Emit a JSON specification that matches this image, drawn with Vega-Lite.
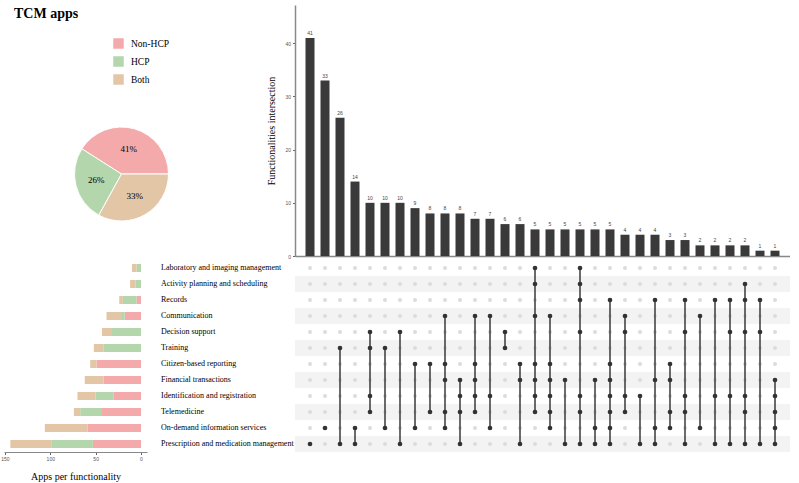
{
  "$schema": "https://vega.github.io/schema/vega-lite/v6.json",
  "background": "white",
  "padding": {"left": 0, "top": 5, "right": 0, "bottom": 0},
  "bounds": "flush",
  "align": "each",
  "columns": 2,
  "spacing": {"row": 4, "column": 56},
  "resolve": {"scale": {"color": "independent", "x": "independent", "y": "independent"}, "legend": {"color": "independent"}},
  "config": {"view": {"stroke": null}, "font": "Liberation Serif"},
  "datasets": {
    "inter": [
      {"id": 1, "n": 41, "L": 0, "A": 0, "R": 0, "C": 0, "D": 0, "T": 0, "Z": 0, "F": 0, "I": 0, "M": 0, "O": 0, "P": 1},
      {"id": 2, "n": 33, "L": 0, "A": 0, "R": 0, "C": 0, "D": 0, "T": 0, "Z": 0, "F": 0, "I": 0, "M": 0, "O": 1, "P": 0},
      {"id": 3, "n": 26, "L": 0, "A": 0, "R": 0, "C": 0, "D": 0, "T": 1, "Z": 0, "F": 0, "I": 0, "M": 0, "O": 0, "P": 1},
      {"id": 4, "n": 14, "L": 0, "A": 0, "R": 0, "C": 0, "D": 0, "T": 0, "Z": 0, "F": 0, "I": 0, "M": 0, "O": 1, "P": 1},
      {"id": 5, "n": 10, "L": 0, "A": 0, "R": 0, "C": 0, "D": 1, "T": 1, "Z": 0, "F": 0, "I": 1, "M": 1, "O": 0, "P": 0},
      {"id": 6, "n": 10, "L": 0, "A": 0, "R": 0, "C": 0, "D": 0, "T": 1, "Z": 0, "F": 0, "I": 0, "M": 0, "O": 1, "P": 0},
      {"id": 7, "n": 10, "L": 0, "A": 0, "R": 0, "C": 0, "D": 1, "T": 0, "Z": 0, "F": 0, "I": 0, "M": 0, "O": 0, "P": 1},
      {"id": 8, "n": 9, "L": 0, "A": 0, "R": 0, "C": 0, "D": 0, "T": 0, "Z": 1, "F": 0, "I": 0, "M": 0, "O": 1, "P": 0},
      {"id": 9, "n": 8, "L": 0, "A": 0, "R": 0, "C": 0, "D": 0, "T": 0, "Z": 1, "F": 0, "I": 0, "M": 1, "O": 0, "P": 0},
      {"id": 10, "n": 8, "L": 0, "A": 0, "R": 0, "C": 1, "D": 0, "T": 0, "Z": 1, "F": 1, "I": 0, "M": 1, "O": 1, "P": 0},
      {"id": 11, "n": 8, "L": 0, "A": 0, "R": 0, "C": 0, "D": 0, "T": 0, "Z": 0, "F": 1, "I": 1, "M": 1, "O": 0, "P": 1},
      {"id": 12, "n": 7, "L": 0, "A": 0, "R": 0, "C": 1, "D": 0, "T": 0, "Z": 1, "F": 1, "I": 1, "M": 1, "O": 0, "P": 0},
      {"id": 13, "n": 7, "L": 0, "A": 0, "R": 0, "C": 1, "D": 0, "T": 0, "Z": 0, "F": 0, "I": 1, "M": 0, "O": 1, "P": 0},
      {"id": 14, "n": 6, "L": 0, "A": 0, "R": 0, "C": 0, "D": 1, "T": 1, "Z": 0, "F": 0, "I": 0, "M": 0, "O": 0, "P": 0},
      {"id": 15, "n": 6, "L": 0, "A": 0, "R": 0, "C": 0, "D": 0, "T": 0, "Z": 1, "F": 1, "I": 0, "M": 0, "O": 0, "P": 1},
      {"id": 16, "n": 5, "L": 1, "A": 1, "R": 0, "C": 1, "D": 0, "T": 0, "Z": 1, "F": 1, "I": 1, "M": 1, "O": 0, "P": 0},
      {"id": 17, "n": 5, "L": 0, "A": 0, "R": 0, "C": 1, "D": 0, "T": 0, "Z": 1, "F": 1, "I": 1, "M": 1, "O": 1, "P": 0},
      {"id": 18, "n": 5, "L": 0, "A": 0, "R": 0, "C": 0, "D": 0, "T": 0, "Z": 0, "F": 1, "I": 0, "M": 0, "O": 0, "P": 1},
      {"id": 19, "n": 5, "L": 1, "A": 1, "R": 1, "C": 0, "D": 1, "T": 0, "Z": 0, "F": 0, "I": 1, "M": 1, "O": 0, "P": 1},
      {"id": 20, "n": 5, "L": 0, "A": 0, "R": 0, "C": 0, "D": 0, "T": 0, "Z": 0, "F": 1, "I": 0, "M": 0, "O": 1, "P": 1},
      {"id": 21, "n": 5, "L": 0, "A": 0, "R": 1, "C": 0, "D": 0, "T": 0, "Z": 1, "F": 1, "I": 1, "M": 1, "O": 1, "P": 1},
      {"id": 22, "n": 4, "L": 0, "A": 0, "R": 0, "C": 1, "D": 1, "T": 0, "Z": 0, "F": 0, "I": 1, "M": 1, "O": 0, "P": 0},
      {"id": 23, "n": 4, "L": 0, "A": 0, "R": 0, "C": 0, "D": 0, "T": 0, "Z": 0, "F": 0, "I": 1, "M": 0, "O": 0, "P": 1},
      {"id": 24, "n": 4, "L": 0, "A": 0, "R": 1, "C": 0, "D": 0, "T": 0, "Z": 0, "F": 1, "I": 0, "M": 0, "O": 1, "P": 1},
      {"id": 25, "n": 3, "L": 0, "A": 0, "R": 0, "C": 0, "D": 0, "T": 0, "Z": 1, "F": 1, "I": 0, "M": 1, "O": 1, "P": 0},
      {"id": 26, "n": 3, "L": 0, "A": 0, "R": 1, "C": 0, "D": 1, "T": 0, "Z": 0, "F": 0, "I": 1, "M": 1, "O": 0, "P": 1},
      {"id": 27, "n": 2, "L": 0, "A": 0, "R": 0, "C": 1, "D": 0, "T": 0, "Z": 0, "F": 0, "I": 0, "M": 0, "O": 1, "P": 0},
      {"id": 28, "n": 2, "L": 0, "A": 0, "R": 1, "C": 0, "D": 0, "T": 0, "Z": 0, "F": 0, "I": 1, "M": 0, "O": 0, "P": 1},
      {"id": 29, "n": 2, "L": 0, "A": 0, "R": 1, "C": 0, "D": 1, "T": 0, "Z": 0, "F": 0, "I": 1, "M": 0, "O": 0, "P": 1},
      {"id": 30, "n": 2, "L": 0, "A": 1, "R": 1, "C": 0, "D": 1, "T": 0, "Z": 0, "F": 0, "I": 1, "M": 1, "O": 0, "P": 1},
      {"id": 31, "n": 1, "L": 0, "A": 0, "R": 1, "C": 0, "D": 1, "T": 0, "Z": 0, "F": 0, "I": 0, "M": 0, "O": 0, "P": 1},
      {"id": 32, "n": 1, "L": 0, "A": 0, "R": 0, "C": 0, "D": 0, "T": 0, "Z": 0, "F": 1, "I": 1, "M": 1, "O": 1, "P": 1}
    ],
    "funcs": [
      {"key": "L", "name": "Laboratory and imaging management"},
      {"key": "A", "name": "Activity planning and scheduling"},
      {"key": "R", "name": "Records"},
      {"key": "C", "name": "Communication"},
      {"key": "D", "name": "Decision support"},
      {"key": "T", "name": "Training"},
      {"key": "Z", "name": "Citizen-based reporting"},
      {"key": "F", "name": "Financial transactions"},
      {"key": "I", "name": "Identification and registration"},
      {"key": "M", "name": "Telemedicine"},
      {"key": "O", "name": "On-demand information services"},
      {"key": "P", "name": "Prescription and medication management"}
    ],
    "apps": [
      {"func": "Laboratory and imaging management", "group": "Non-HCP", "n": 0},
      {"func": "Laboratory and imaging management", "group": "HCP", "n": 5},
      {"func": "Laboratory and imaging management", "group": "Both", "n": 5},
      {"func": "Activity planning and scheduling", "group": "Non-HCP", "n": 0},
      {"func": "Activity planning and scheduling", "group": "HCP", "n": 6},
      {"func": "Activity planning and scheduling", "group": "Both", "n": 6},
      {"func": "Records", "group": "Non-HCP", "n": 5},
      {"func": "Records", "group": "HCP", "n": 15},
      {"func": "Records", "group": "Both", "n": 4},
      {"func": "Communication", "group": "Non-HCP", "n": 18},
      {"func": "Communication", "group": "HCP", "n": 4},
      {"func": "Communication", "group": "Both", "n": 16},
      {"func": "Decision support", "group": "Non-HCP", "n": 0},
      {"func": "Decision support", "group": "HCP", "n": 32},
      {"func": "Decision support", "group": "Both", "n": 11},
      {"func": "Training", "group": "Non-HCP", "n": 0},
      {"func": "Training", "group": "HCP", "n": 41},
      {"func": "Training", "group": "Both", "n": 11},
      {"func": "Citizen-based reporting", "group": "Non-HCP", "n": 49},
      {"func": "Citizen-based reporting", "group": "HCP", "n": 0},
      {"func": "Citizen-based reporting", "group": "Both", "n": 7},
      {"func": "Financial transactions", "group": "Non-HCP", "n": 41},
      {"func": "Financial transactions", "group": "HCP", "n": 0},
      {"func": "Financial transactions", "group": "Both", "n": 21},
      {"func": "Identification and registration", "group": "Non-HCP", "n": 30},
      {"func": "Identification and registration", "group": "HCP", "n": 20},
      {"func": "Identification and registration", "group": "Both", "n": 20},
      {"func": "Telemedicine", "group": "Non-HCP", "n": 43},
      {"func": "Telemedicine", "group": "HCP", "n": 24},
      {"func": "Telemedicine", "group": "Both", "n": 7},
      {"func": "On-demand information services", "group": "Non-HCP", "n": 59},
      {"func": "On-demand information services", "group": "HCP", "n": 0},
      {"func": "On-demand information services", "group": "Both", "n": 47},
      {"func": "Prescription and medication management", "group": "Non-HCP", "n": 53},
      {"func": "Prescription and medication management", "group": "HCP", "n": 46},
      {"func": "Prescription and medication management", "group": "Both", "n": 45}
    ],
    "pie": [
      {"group": "Non-HCP", "pct": 41, "label": "41%"},
      {"group": "HCP", "pct": 26, "label": "26%"},
      {"group": "Both", "pct": 33, "label": "33%"}
    ]
  },
  "concat": [
    {
      "width": 235,
      "height": 251,
      "data": {"name": "pie"},
      "title": {"text": "TCM apps", "anchor": "start", "orient": "top", "frame": "group", "offset": -16, "dx": 10, "font": "Liberation Serif", "fontSize": 14, "fontWeight": "bold", "color": "black"},
      "encoding": {
        "theta": {"field": "pct", "type": "quantitative", "stack": true, "scale": {"range": [1.5708, 7.854]}},
        "order": {"field": "group", "sort": "ascending"}
      },
      "layer": [
        {
          "mark": {"type": "arc", "outerRadius": 47, "stroke": "white", "strokeWidth": 1, "yOffset": 43.5},
          "encoding": {
            "color": {
              "field": "group", "type": "nominal",
              "scale": {"domain": ["Non-HCP", "HCP", "Both"], "range": ["#f4aaaa", "#b4d6ad", "#e2c6a6"]},
              "legend": {"orient": "none", "legendX": 109, "legendY": 33, "title": null, "symbolType": "square", "symbolSize": 110, "symbolStrokeWidth": 0, "labelFont": "Liberation Serif", "labelFontSize": 9.5, "labelColor": "black", "labelOffset": 7, "rowPadding": 7, "padding": 0}
            }
          }
        },
        {
          "mark": {"type": "text", "radius": 26, "yOffset": 43.5, "font": "Liberation Serif", "fontSize": 9, "color": "black"},
          "encoding": {"text": {"field": "label"}, "detail": {"field": "group"}}
        }
      ]
    },
    {
      "width": 495,
      "height": 251,
      "data": {"name": "inter"},
      "encoding": {
        "x": {"field": "id", "type": "ordinal", "scale": {"type": "band", "paddingInner": 0.4, "paddingOuter": 0.7}, "axis": {"labels": false, "ticks": false, "title": null, "domainColor": "#888", "domainWidth": 1.5}},
        "y": {"field": "n", "type": "quantitative", "scale": {"domain": [0, 47.2], "nice": false}, "axis": {"values": [0, 10, 20, 30, 40], "grid": false, "labelFlush": false, "title": "Functionalities intersection", "titleFont": "Liberation Serif", "titleFontSize": 10, "titleFontWeight": "normal", "titleColor": "black", "titlePadding": 8, "labelFont": "Liberation Sans", "labelFontSize": 5, "labelColor": "#555", "tickSize": 2.5, "tickColor": "#666", "domainColor": "#888", "domainWidth": 1.5}}
      },
      "layer": [
        {"mark": {"type": "bar", "color": "#3a3a3a"}},
        {"mark": {"type": "text", "dy": -5, "font": "Liberation Sans", "fontSize": 5, "color": "#444"}, "encoding": {"text": {"field": "n"}}}
      ]
    },
    {
      "width": 143,
      "height": 192,
      "data": {"name": "apps"},
      "mark": {"type": "bar"},
      "encoding": {
        "y": {
          "field": "func", "type": "nominal",
          "sort": ["Laboratory and imaging management", "Activity planning and scheduling", "Records", "Communication", "Decision support", "Training", "Citizen-based reporting", "Financial transactions", "Identification and registration", "Telemedicine", "On-demand information services", "Prescription and medication management"],
          "scale": {"paddingInner": 0.5, "paddingOuter": 0.25},
          "axis": {"orient": "right", "title": null, "domain": false, "ticks": false, "labelAlign": "left", "labelPadding": 13.5, "labelFont": "Liberation Serif", "labelFontSize": 8, "labelColor": "black", "labelLimit": 300}
        },
        "x": {
          "field": "n", "type": "quantitative", "stack": "zero",
          "scale": {"domain": [-6.6, 151], "reverse": true, "nice": false, "zero": false},
          "axis": {"values": [0, 50, 100, 150], "grid": false, "labelFlush": false, "title": "Apps per functionality", "titleFont": "Liberation Serif", "titleFontSize": 10, "titleFontWeight": "normal", "titleColor": "black", "titlePadding": 10, "labelFont": "Liberation Sans", "labelFontSize": 5, "labelColor": "#555", "tickSize": 2.5, "tickColor": "#666", "domainColor": "#888", "domainWidth": 1}
        },
        "color": {"field": "group", "type": "nominal", "scale": {"domain": ["Non-HCP", "HCP", "Both"], "range": ["#f4aaaa", "#b4d6ad", "#e2c6a6"]}, "legend": null},
        "order": {"field": "group", "sort": "descending"}
      }
    },
    {
      "width": 495,
      "height": 192,
      "layer": [
        {
          "data": {"name": "funcs"},
          "transform": [{"filter": {"field": "key", "oneOf": ["A", "C", "T", "F", "M", "P"]}}],
          "mark": {"type": "rect", "color": "#f3f3f3"},
          "encoding": {
            "y": {"field": "key", "type": "nominal", "sort": ["L", "A", "R", "C", "D", "T", "Z", "F", "I", "M", "O", "P"], "scale": {"domain": ["L", "A", "R", "C", "D", "T", "Z", "F", "I", "M", "O", "P"], "paddingInner": 0, "paddingOuter": 0}, "axis": null}
          }
        },
        {
          "data": {"name": "inter"},
          "transform": [{"fold": ["L", "A", "R", "C", "D", "T", "Z", "F", "I", "M", "O", "P"], "as": ["key", "on"]}],
          "layer": [
            {
              "mark": {"type": "circle", "size": 16, "color": "#dcdcdc", "opacity": 1},
              "encoding": {
                "x": {"field": "id", "type": "ordinal", "scale": {"type": "band", "paddingInner": 0.4, "paddingOuter": 0.7}, "axis": null},
                "y": {"field": "key", "type": "nominal", "sort": ["L", "A", "R", "C", "D", "T", "Z", "F", "I", "M", "O", "P"], "axis": null}
              }
            },
            {
              "transform": [{"filter": "datum.on == 1"}],
              "mark": {"type": "line", "color": "#3a3a3a", "strokeWidth": 1.5},
              "encoding": {
                "x": {"field": "id", "type": "ordinal", "scale": {"type": "band", "paddingInner": 0.4, "paddingOuter": 0.7}, "axis": null},
                "y": {"field": "key", "type": "nominal", "sort": ["L", "A", "R", "C", "D", "T", "Z", "F", "I", "M", "O", "P"], "axis": null},
                "detail": {"field": "id"}
              }
            },
            {
              "transform": [{"filter": "datum.on == 1"}],
              "mark": {"type": "circle", "size": 22, "color": "#333333", "opacity": 1},
              "encoding": {
                "x": {"field": "id", "type": "ordinal", "scale": {"type": "band", "paddingInner": 0.4, "paddingOuter": 0.7}, "axis": null},
                "y": {"field": "key", "type": "nominal", "sort": ["L", "A", "R", "C", "D", "T", "Z", "F", "I", "M", "O", "P"], "axis": null}
              }
            }
          ]
        }
      ]
    }
  ]
}
